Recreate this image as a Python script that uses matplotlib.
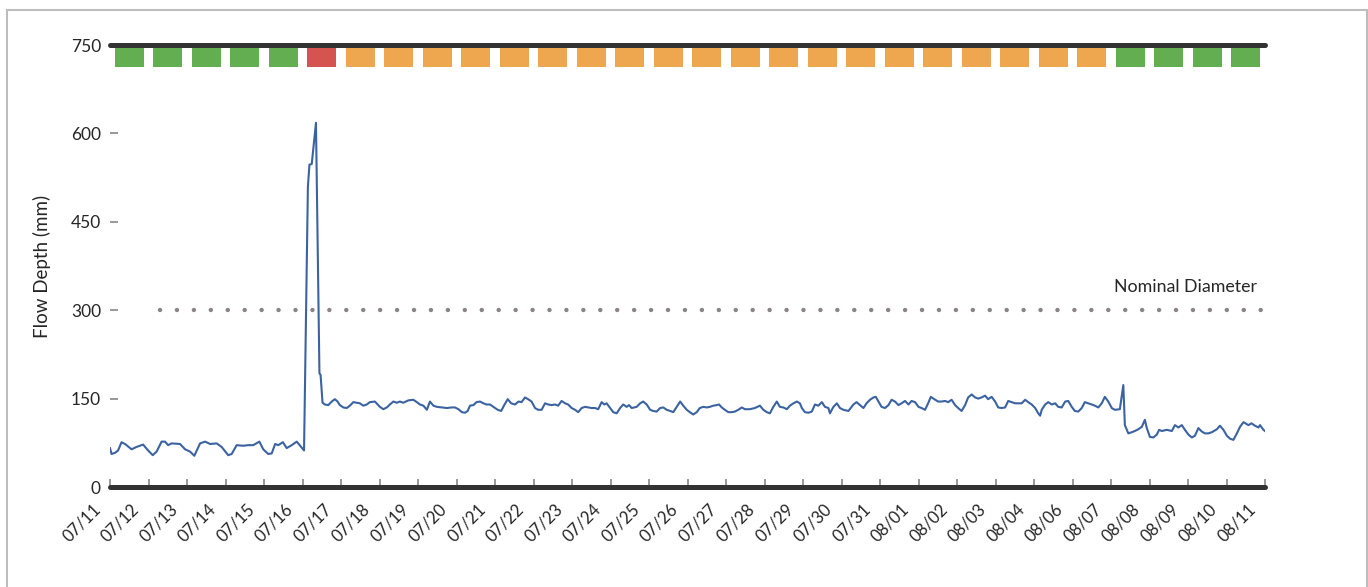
import matplotlib
matplotlib.use("Agg")
import matplotlib.pyplot as plt
import matplotlib.transforms as mtransforms
from matplotlib.patches import Rectangle
import numpy as np

plt.rcParams['font.family'] = ['Lato', 'DejaVu Sans']

# ---- data : days since 07/11, flow depth in mm ----
t_pre = [0.00, 0.04, 0.13, 0.21, 0.30, 0.39, 0.56, 0.69, 0.86, 0.99, 1.11, 1.21, 1.34, 1.43, 1.51,
         1.60, 1.82, 1.95, 2.08, 2.19, 2.34, 2.47, 2.60, 2.77, 2.90, 3.07, 3.16, 3.29, 3.46, 3.59,
         3.72, 3.88, 3.98, 4.11, 4.20, 4.29, 4.37, 4.49, 4.59, 4.72, 4.85, 4.94, 5.04]
d_pre = [66, 56, 58, 62, 76, 73, 64, 68, 72, 62, 54, 60, 77, 77, 71,
         74, 73, 64, 60, 53, 74, 77, 73, 74, 68, 54, 56, 71, 70, 71,
         71, 77, 64, 56, 57, 73, 71, 76, 66, 71, 77, 70, 62]

t_spike = [5.14, 5.18, 5.24, 5.35, 5.44, 5.47, 5.52]
d_spike = [509, 547, 548, 618, 193, 190, 143]

t_wk1 = [5.58, 5.67, 5.76, 5.84, 5.91, 5.97, 6.06, 6.15, 6.23, 6.32, 6.41, 6.49, 6.58, 6.67, 6.75,
         6.88, 7.01, 7.10, 7.19, 7.27, 7.36, 7.45, 7.53, 7.62, 7.75, 7.88, 7.97, 8.05, 8.14, 8.23,
         8.31, 8.40, 8.49, 8.62, 8.75, 8.88, 8.96, 9.05, 9.14, 9.22, 9.29, 9.35, 9.44, 9.52, 9.61,
         9.70, 9.78, 9.87, 9.96, 10.07, 10.16, 10.24, 10.33, 10.42, 10.52, 10.61, 10.69, 10.78,
         10.86, 10.95, 11.04, 11.12, 11.21, 11.30, 11.38, 11.47, 11.56]
d_wk1 = [140, 139, 145, 149, 145, 139, 135, 134, 138, 144, 143, 142, 138, 140, 144,
         145, 136, 132, 135, 140, 145, 143, 145, 143, 147, 148, 144, 140, 138, 131,
         145, 138, 136, 135, 134, 135, 135, 132, 127, 126, 129, 138, 139, 144, 145,
         142, 140, 140, 136, 131, 129, 139, 149, 142, 140, 145, 144, 152,
         149, 145, 134, 131, 131, 142, 140, 139, 140]

t_wk2 = [11.64, 11.73, 11.82, 11.90, 11.99, 12.08, 12.16, 12.25, 12.34, 12.42, 12.51, 12.60, 12.68,
         12.77, 12.84, 12.90, 12.99, 13.07, 13.16, 13.25, 13.33, 13.42, 13.48, 13.55, 13.68, 13.77,
         13.85, 13.94, 14.03, 14.11, 14.20, 14.29, 14.37, 14.46, 14.55, 14.63, 14.72, 14.81, 14.89,
         14.98, 15.06, 15.15, 15.24, 15.32, 15.41, 15.50, 15.58, 15.67, 15.76, 15.82, 15.89, 15.97,
         16.06, 16.15, 16.23, 16.32, 16.41, 16.49, 16.62, 16.75, 16.88, 16.97, 17.06, 17.14, 17.23,
         17.32, 17.40, 17.49, 17.58, 17.66, 17.75, 17.84, 17.92]
d_wk2 = [138, 146, 142, 140, 134, 131, 127, 134, 136, 135, 134, 134, 132,
         144, 140, 142, 134, 127, 125, 134, 140, 136, 139, 134, 136, 142,
         145, 140, 131, 129, 128, 134, 135, 131, 129, 127, 136, 145, 138,
         131, 127, 123, 127, 134, 136, 135, 136, 138, 139, 140, 135, 131,
         127, 127, 128, 131, 135, 132, 132, 134, 138, 131, 127, 125, 136,
         145, 136, 135, 132, 138, 142, 145, 142]

t_wk3 = [17.97, 18.05, 18.14, 18.23, 18.31, 18.40, 18.49, 18.57, 18.66, 18.70, 18.79, 18.88, 18.96,
         19.05, 19.18, 19.31, 19.39, 19.48, 19.57, 19.65, 19.74, 19.83, 19.89, 19.96, 20.04, 20.13,
         20.22, 20.30, 20.39, 20.48, 20.56, 20.65, 20.74, 20.82, 20.91, 21.00, 21.08, 21.17, 21.25,
         21.32, 21.41, 21.51, 21.60, 21.69, 21.77, 21.86, 21.95, 22.03, 22.12, 22.21, 22.29, 22.38,
         22.47, 22.55, 22.64, 22.73, 22.81, 22.90, 22.99, 23.07, 23.16, 23.25, 23.33, 23.42, 23.51,
         23.68, 23.77, 23.85, 23.94, 24.03]
d_wk3 = [134, 127, 126, 128, 140, 138, 144, 136, 134, 125, 136, 142, 134,
         131, 129, 140, 144, 139, 134, 142, 148, 152, 153, 145, 136, 134,
         139, 148, 145, 139, 142, 146, 140, 146, 144, 136, 134, 131, 142,
         153, 149, 145, 145, 146, 144, 148, 139, 134, 129, 139, 152, 157,
         152, 150, 152, 155, 149, 153, 145, 135, 134, 135, 146, 144, 142,
         142, 148, 144, 140, 134]

t_wk4 = [24.11, 24.16, 24.20, 24.29, 24.37, 24.46, 24.55, 24.63, 24.72, 24.81, 24.89, 24.98, 25.06,
         25.15, 25.24, 25.32, 25.41, 25.50, 25.58, 25.67, 25.76, 25.84, 25.93, 26.02, 26.10, 26.23,
         26.32, 26.36, 26.45, 26.54, 26.62, 26.71, 26.80, 26.88, 26.93, 27.01, 27.10, 27.19, 27.25,
         27.32, 27.45, 27.58, 27.66, 27.75, 27.84, 27.92, 28.01, 28.10, 28.18, 28.27, 28.36, 28.44,
         28.53, 28.62, 28.75, 28.83, 28.92, 29.01, 29.09, 29.18, 29.27, 29.35, 29.44, 29.57, 29.65,
         29.74, 29.83, 29.87, 29.96, 30.00]
d_wk4 = [125, 121, 131, 140, 144, 140, 142, 136, 135, 145, 146, 136, 129,
         128, 134, 144, 142, 140, 138, 135, 142, 153, 145, 134, 131, 132,
         173, 105, 91, 93, 95, 98, 102, 114, 100, 85, 84, 89, 97,
         95, 97, 95, 105, 101, 105, 97, 89, 84, 87, 100, 94, 91,
         91, 93, 98, 104, 97, 87, 82, 80, 91, 102, 110, 105, 108,
         104, 101, 105, 97, 95]

day_labels = ['07/11', '07/12', '07/13', '07/14', '07/15', '07/16', '07/17', '07/18', '07/19',
              '07/20', '07/21', '07/22', '07/23', '07/24', '07/25', '07/26', '07/27', '07/28',
              '07/29', '07/30', '07/31', '08/01', '08/02', '08/03', '08/04', '08/06', '08/07',
              '08/08', '08/09', '08/10', '08/11']

# daily status strip (one square per day)
status = ['ok'] * 5 + ['alarm'] + ['warn'] * 20 + ['ok'] * 4
status_colors = {'ok': '#62ae50', 'alarm': '#d5544f', 'warn': '#eea74f'}

nominal_diameter = 300
nominal_start = 1.3
y_max = 750

t = np.array(t_pre + t_spike + t_wk1 + t_wk2 + t_wk3 + t_wk4)
depth = np.array(d_pre + d_spike + d_wk1 + d_wk2 + d_wk3 + d_wk4)

# ---- figure ----
fig = plt.figure(figsize=(13.68, 5.87), dpi=100)
ax = fig.add_axes([110 / 1368, 1 - 487 / 587, 1155 / 1368, 442 / 587])

# frame around the whole picture
fig.patches.append(Rectangle((7 / 1368, -0.05), 1360 / 1368, 1 - 10 / 587 + 0.05,
                             transform=fig.transFigure, fill=False, ec='#bdbdbd', lw=1.5))

ax.plot(t, depth, color='#3b63a1', lw=1.5, zorder=3)

# nominal diameter, dotted
ax.plot([nominal_start, 30], [nominal_diameter, nominal_diameter], color='#8a8584', lw=3.2,
        ls=(0, (0.01, 3.8)), dash_capstyle='round', zorder=2)
ax.text(29.8, nominal_diameter + 25, 'Nominal Diameter', ha='right', va='bottom',
        fontsize=12.8, color='#262626')

# status squares under the top line
days = np.arange(len(status)) + 0.5
ax.bar(days, 34, bottom=713, width=0.75, color=[status_colors[s] for s in status], zorder=2)
ax.axhline(y_max, color='#333333', lw=3.6, solid_capstyle='round', clip_on=False, zorder=4)

ax.set_xlim(0, 30)
ax.set_ylim(0, y_max)

for side in ['left', 'right', 'top']:
    ax.spines[side].set_visible(False)
ax.spines['bottom'].set_linewidth(3.6)
ax.spines['bottom'].set_color('#333333')
ax.spines['bottom'].set_capstyle('round')

ax.set_yticks([0, 150, 300, 450, 600, 750])
ax.tick_params(axis='y', direction='in', length=5.8, width=1.2, color='#888888',
               labelcolor='#262626', labelsize=12.5, pad=6.5)
ax.set_xticks(np.arange(len(day_labels)))
ax.set_xticklabels(day_labels, rotation=45, ha='right', va='center', rotation_mode='anchor')
ax.tick_params(axis='x', direction='in', length=5.8, width=1.2, color='#888888',
               labelcolor='#262626', labelsize=12, pad=14)
shift = mtransforms.ScaledTranslation(-12 / 100, 0, fig.dpi_scale_trans)
for lab in ax.get_xticklabels():
    lab.set_transform(lab.get_transform() + shift)

ax.set_ylabel('Flow Depth (mm)', fontsize=13.5, color='#262626', labelpad=14)

fig.savefig('out.png', dpi=100)
